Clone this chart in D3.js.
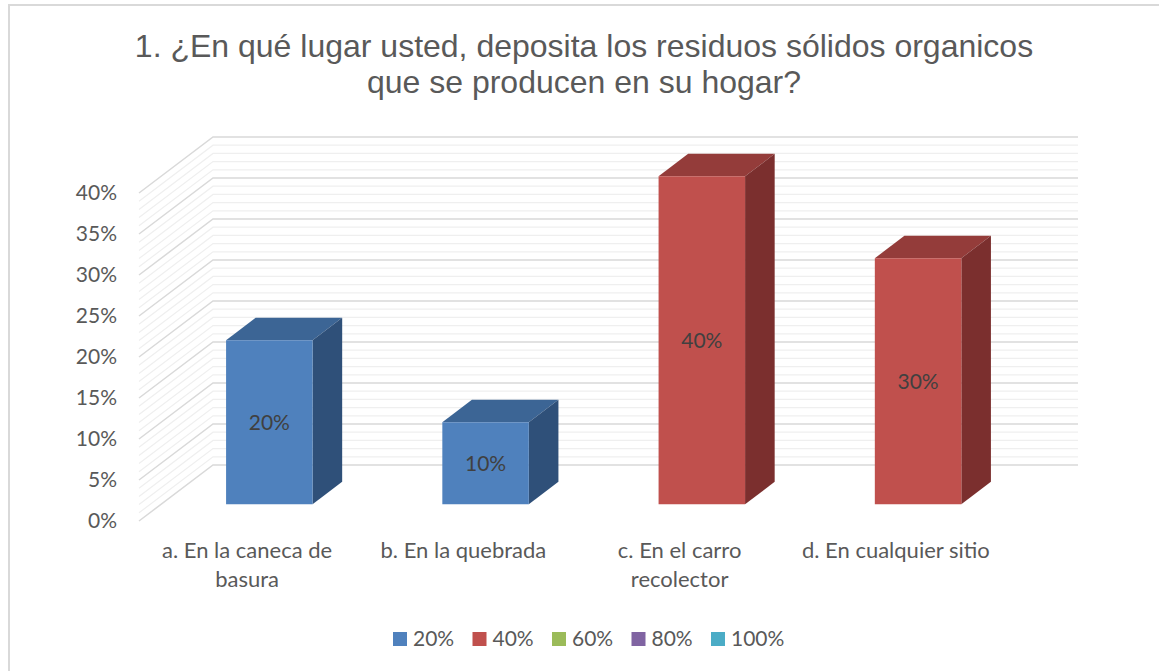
<!DOCTYPE html>
<html>
<head>
<meta charset="utf-8">
<script src="https://cdn.jsdelivr.net/npm/d3@7"></script>
<style>
  html, body { margin: 0; padding: 0; background: #fff; }
  svg { display: block; }
</style>
</head>
<body>
<div id="chart"></div>
<script>
// datos del gráfico
var titleLines = ["1. ¿En qué lugar usted, deposita los residuos sólidos organicos",
                  "que se producen en su hogar?"];
var categories = [["a. En la caneca de", "basura"],
                  ["b. En la quebrada"],
                  ["c. En el carro", "recolector"],
                  ["d. En cualquier sitio"]];
var values = [0.20, 0.10, 0.40, 0.30];
var seriesOfBar = [0, 0, 1, 1];
var seriesNames = ["20%", "40%", "60%", "80%", "100%"];
var yTicks = [0, 0.05, 0.10, 0.15, 0.20, 0.25, 0.30, 0.35, 0.40];

var W = 1159, H = 671;
var seriesColors = ["#4F81BD", "#C0504D", "#9BBB59", "#8064A2", "#4BACC6"];
var topColors    = ["#3C6595", "#943C3A"];
var sideColors   = ["#2F5079", "#7B2F2E"];

var svg = d3.select("#chart").append("svg")
  .attr("width", W).attr("height", H);

// borde del área del gráfico
svg.append("path")
  .attr("d", "M9,671 V5 H1159")
  .attr("fill", "none")
  .attr("stroke", "#d9d9d9")
  .attr("stroke-width", 2);

// proyección oblicua: plano frontal + profundidad
var DX = 74, DY = 56;
var x = d3.scaleBand().domain(d3.range(categories.length)).range([139, 1004]);
var y = d3.scaleLinear().domain([0, 0.40]).range([521, 193]);
function P(px, v, depth) { return [px + depth * DX, y(v) - depth * DY]; }

// líneas de cuadrícula (pared lateral y pared del fondo)
var grid = d3.range(0, 41).map(d => d / 100);
var gGrid = svg.append("g");
grid.forEach(function(v, i) {
  var major = (i % 5 === 0);
  var a = P(x.range()[0], v, 0), b = P(x.range()[0], v, 1), c = P(x.range()[1], v, 1);
  gGrid.append("path")
    .attr("d", "M" + a + "L" + b + "L" + c)
    .attr("fill", "none")
    .attr("stroke", major ? "#d9d9d9" : "#efefef")
    .attr("stroke-width", major ? 1.5 : 1.2);
});

// barras 3D
var barW = x.bandwidth() * 0.4, d0 = 0.3, d1 = 0.7;
var gBars = svg.append("g");
values.forEach(function(v, i) {
  var s = seriesOfBar[i];
  var xl = x(i) + (x.bandwidth() - barW) / 2, xr = xl + barW;
  var fbl = P(xl, 0, d0), fbr = P(xr, 0, d0), ftl = P(xl, v, d0), ftr = P(xr, v, d0);
  var bbr = P(xr, 0, d1), btl = P(xl, v, d1), btr = P(xr, v, d1);
  // cara superior
  gBars.append("path").attr("d", "M" + ftl + "L" + btl + "L" + btr + "L" + ftr + "Z")
    .attr("fill", topColors[s]);
  // cara lateral
  gBars.append("path").attr("d", "M" + ftr + "L" + btr + "L" + bbr + "L" + fbr + "Z")
    .attr("fill", sideColors[s]);
  // cara frontal
  gBars.append("path").attr("d", "M" + fbl + "L" + ftl + "L" + ftr + "L" + fbr + "Z")
    .attr("fill", seriesColors[s]);
  // etiqueta de datos
  gBars.append("text")
    .attr("x", (fbl[0] + fbr[0]) / 2)
    .attr("y", (fbl[1] + ftl[1]) / 2)
    .attr("dy", "0.35em")
    .attr("text-anchor", "middle")
    .style("font-family", "Lato, sans-serif")
    .style("font-size", "21px")
    .style("fill", "#404040")
    .text(d3.format(".0%")(v));
});

// eje Y
svg.append("g").selectAll("text")
  .data(yTicks).enter().append("text")
  .attr("x", 117)
  .attr("y", d => y(d))
  .attr("dy", "0.35em")
  .attr("text-anchor", "end")
  .style("font-family", "Lato, sans-serif")
  .style("font-size", "21px")
  .style("fill", "#595959")
  .text(d => d3.format(".0%")(d));

// eje X (categorías)
var gCat = svg.append("g");
categories.forEach(function(lines, i) {
  lines.forEach(function(t, j) {
    gCat.append("text")
      .attr("x", x(i) + x.bandwidth() / 2)
      .attr("y", 558 + j * 29)
      .attr("text-anchor", "middle")
      .style("font-family", "Lato, sans-serif")
      .style("font-size", "22px")
      .style("fill", "#595959")
      .text(t);
  });
});

// título
svg.append("g").selectAll("text")
  .data(titleLines).enter().append("text")
  .attr("x", 584)
  .attr("y", (d, i) => 57 + i * 36)
  .attr("text-anchor", "middle")
  .style("font-family", "'Liberation Sans', Arial, sans-serif")
  .style("font-size", "32px")
  .style("fill", "#595959")
  .text(d => d);

// leyenda
var legX = d3.scalePoint().domain(seriesNames).range([393, 711]);
var leg = svg.append("g").selectAll("g")
  .data(seriesNames).enter().append("g")
  .attr("transform", d => "translate(" + legX(d) + ",639)");
leg.append("rect")
  .attr("x", 0).attr("y", -7).attr("width", 14).attr("height", 14)
  .attr("fill", (d, i) => seriesColors[i]);
leg.append("text")
  .attr("x", 20).attr("y", 0).attr("dy", "0.35em")
  .style("font-family", "Lato, sans-serif")
  .style("font-size", "21px")
  .style("fill", "#595959")
  .text(d => d);
</script>
</body>
</html>
